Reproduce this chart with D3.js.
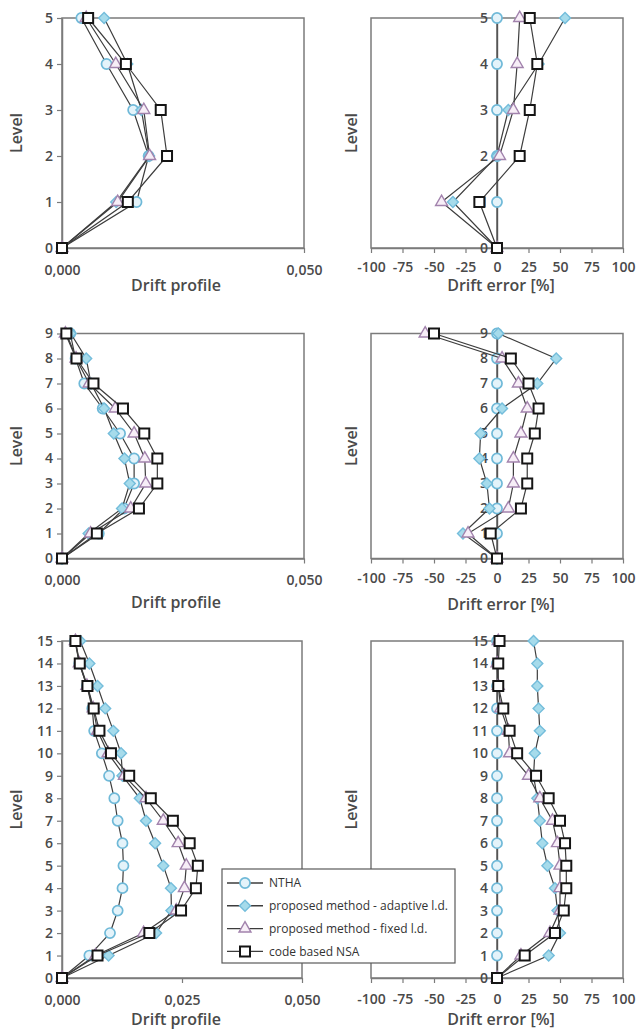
<!DOCTYPE html>
<html lang="en">
<head>
<meta charset="UTF-8">
<title>Drift profile / drift error</title>
<script src="https://cdn.jsdelivr.net/npm/d3@7"></script>
<style>
    body{margin:0;background:#fff;}
    svg text{font-family:"Open Sans",sans-serif;}
</style>
</head>
<body>
<svg width="637" height="1030"></svg>
<script>
    // series (legend order)
    var seriesNames = ["NTHA", "proposed method - adaptive l.d.", "proposed method - fixed l.d.", "code based NSA"];

    // tick labels
    var driftTicksShort = [0, 0.05];
    var driftTicksLong = [0, 0.025, 0.05];
    var errorTicks = [-100, -75, -50, -25, 0, 25, 50, 75, 100];

    // 5 storey frame: drift profile, index = level
    var p1Ntha     = [0, 0.0154, 0.0179, 0.0147, 0.0092, 0.0040];
    var p1Adaptive = [0, 0.0112, 0.0180, 0.0164, 0.0135, 0.0087];
    var p1Fixed    = [0, 0.0115, 0.0181, 0.0169, 0.0111, 0.0050];
    var p1Nsa      = [0, 0.0136, 0.0217, 0.0204, 0.0132, 0.0054];
    // 5 storey frame: drift error [%]
    var p2Ntha     = [0, 0, 0, 0, 0, 0];
    var p2Adaptive = [0, -35, 0, 9, 33, 54];
    var p2Fixed    = [0, -44, 2, 13, 16, 18];
    var p2Nsa      = [0, -14, 18, 26, 32, 26];

    // 9 storey frame
    var p3Ntha     = [0, 0.0076, 0.0128, 0.0149, 0.0149, 0.0120, 0.0084, 0.0046, 0.0028, 0.0017];
    var p3Adaptive = [0, 0.0055, 0.0124, 0.0140, 0.0129, 0.0107, 0.0087, 0.0060, 0.0050, 0.0018];
    var p3Fixed    = [0, 0.0059, 0.0142, 0.0173, 0.0171, 0.0149, 0.0110, 0.0056, 0.0029, 0.0007];
    var p3Nsa      = [0, 0.0072, 0.0159, 0.0197, 0.0197, 0.0170, 0.0126, 0.0065, 0.0030, 0.0009];
    var p4Ntha     = [0, 0, 0, 0, 0, 0, 0, 0, 0, 0];
    var p4Adaptive = [0, -27, -6, -8, -14, -13, 4, 32, 47, 1];
    var p4Fixed    = [0, -23, 9, 13, 13, 19, 24, 17, 4, -57];
    var p4Nsa      = [0, -5, 19, 24, 24, 30, 33, 25, 11, -50];

    // 15 storey frame
    var p5Ntha     = [0, 0.0057, 0.0100, 0.0116, 0.0126, 0.0128, 0.0126, 0.0116, 0.0109, 0.0098, 0.0083, 0.0067, 0.0063, 0.0052, 0.0036, 0.0027];
    var p5Adaptive = [0, 0.0097, 0.0196, 0.0228, 0.0227, 0.0211, 0.0194, 0.0175, 0.0162, 0.0126, 0.0123, 0.0107, 0.0090, 0.0074, 0.0057, 0.0038];
    var p5Fixed    = [0, 0.0070, 0.0170, 0.0238, 0.0255, 0.0259, 0.0242, 0.0211, 0.0175, 0.0130, 0.0096, 0.0074, 0.0065, 0.0052, 0.0036, 0.0028];
    var p5Nsa      = [0, 0.0074, 0.0182, 0.0248, 0.0279, 0.0283, 0.0266, 0.0231, 0.0185, 0.0140, 0.0102, 0.0078, 0.0066, 0.0053, 0.0037, 0.0028];
    var p6Ntha     = [0, 0, 0, 0, 0, 0, 0, 0, 0, 0, 0, 0, 0, 0, 0, 0];
    var p6Adaptive = [0, 41, 50, 48, 46, 40, 36, 34, 32, 29, 30, 34, 33, 32, 32, 29];
    var p6Fixed    = [0, 19, 42, 50, 50, 50, 48, 44, 34, 25, 10, 9, 3, 1, 0, 1];
    var p6Nsa      = [0, 22, 46, 53, 55, 55, 54, 50, 41, 31, 16, 10, 5, 1, 1, 2];

    var svg = d3.select("svg");

    // marker look for each series
    var markers = [
        {type: d3.symbolCircle, size: 80, rot: 0, fill: "#e4f3fa", stroke: "#6fb9d8", width: 1.7},
        {type: d3.symbolSquare, size: 60, rot: 45, fill: "#a6dbeb", stroke: "#74bddb", width: 1.4},
        {type: d3.symbolTriangle, size: 62, rot: 0, fill: "#f7eef7", stroke: "#a283ad", width: 1.4},
        {type: d3.symbolSquare, size: 100, rot: 0, fill: "#ffffff", stroke: "#151515", width: 2}
    ];
    var lineColor = "#3d3d3d";
    var frameColor = "#7b7b7b";
    var textColor = "#4a4a4a";

    var fmtDrift = function(d){ return d3.format(".3f")(d).replace(".", ","); };
    // plain hyphen for negatives, as in the original figure
    var fmtError = function(d){ return String(d); };

    var panels = [
        {series: [p1Ntha, p1Adaptive, p1Fixed, p1Nsa], domain: [0, 0.05], ticks: driftTicksShort, fmt: fmtDrift,
            left: 62, right: 304, top: 18, bottom: 248, pad: 12, title: "Drift profile", tx: 176, ty: 291, lx: 18},
        {series: [p2Ntha, p2Adaptive, p2Fixed, p2Nsa], domain: [-100, 100], ticks: errorTicks, fmt: fmtError,
            left: 371, right: 623, top: 18, bottom: 248, pad: 9, title: "Drift error [%]", tx: 501, ty: 291, lx: 353},
        {series: [p3Ntha, p3Adaptive, p3Fixed, p3Nsa], domain: [0, 0.05], ticks: driftTicksShort, fmt: fmtDrift,
            left: 62, right: 304, top: 333.5, bottom: 558.5, pad: 12, title: "Drift profile", tx: 176, ty: 608, lx: 18},
        {series: [p4Ntha, p4Adaptive, p4Fixed, p4Nsa], domain: [-100, 100], ticks: errorTicks, fmt: fmtError,
            left: 371, right: 623, top: 333.5, bottom: 558.5, pad: 10, title: "Drift error [%]", tx: 501, ty: 610, lx: 353},
        {series: [p5Ntha, p5Adaptive, p5Fixed, p5Nsa], domain: [0, 0.05], ticks: driftTicksLong, fmt: fmtDrift,
            left: 62, right: 302, top: 641, bottom: 978, pad: 12, title: "Drift profile", tx: 176, ty: 1025, lx: 18},
        {series: [p6Ntha, p6Adaptive, p6Fixed, p6Nsa], domain: [-100, 100], ticks: errorTicks, fmt: fmtError,
            left: 371, right: 623, top: 641, bottom: 978, pad: 11, title: "Drift error [%]", tx: 501, ty: 1025, lx: 353}
    ];

    function symbolPath(m){
        return d3.symbol().type(m.type).size(m.size)();
    }

    panels.forEach(function(p){
        var nLevels = p.series[0].length - 1;
        var x = d3.scaleLinear().domain(p.domain).range([p.left, p.right]);
        var y = d3.scaleLinear().domain([0, nLevels]).range([p.bottom, p.top]);
        var g = svg.append("g");

        // plot frame
        g.append("rect")
            .attr("x", p.left).attr("y", p.top)
            .attr("width", p.right - p.left).attr("height", p.bottom - p.top)
            .attr("fill", "none").attr("stroke", frameColor).attr("stroke-width", 1.5);

        var xAxis = g.append("g")
            .attr("transform", "translate(0," + p.bottom + ")")
            .call(d3.axisBottom(x).tickValues(p.ticks).tickFormat(p.fmt).tickSize(5).tickSizeOuter(0).tickPadding(p.pad));

        // level axis sits at x = 0
        var yAxis = g.append("g")
            .attr("transform", "translate(" + x(0) + ",0)")
            .call(d3.axisLeft(y).tickValues(d3.range(nLevels + 1)).tickFormat(d3.format("d")).tickSize(5).tickSizeOuter(0).tickPadding(4));

        [xAxis, yAxis].forEach(function(a){
            a.select(".domain").attr("stroke", frameColor).attr("stroke-width", 1.5);
            a.selectAll(".tick line").attr("stroke", frameColor).attr("stroke-width", 1.2);
            a.selectAll(".tick text").attr("fill", textColor).style("font-size", "14px").style("font-weight", 600);
        });

        // lines first, then markers, series after series
        var line = d3.line()
            .x(function(d){ return x(d); })
            .y(function(d, i){ return y(i); });

        p.series.forEach(function(vals, s){
            var m = markers[s];
            g.append("path")
                .datum(vals)
                .attr("d", line)
                .attr("fill", "none")
                .attr("stroke", lineColor)
                .attr("stroke-width", 1.2);
            g.selectAll(".mk" + s)
                .data(vals)
                .enter()
                .append("path")
                .attr("class", "mk" + s)
                .attr("d", symbolPath(m))
                .attr("transform", function(d, i){ return "translate(" + x(d) + "," + y(i) + ") rotate(" + m.rot + ")"; })
                .attr("fill", m.fill)
                .attr("stroke", m.stroke)
                .attr("stroke-width", m.width);
        });

        g.append("text")
            .attr("x", p.tx).attr("y", p.ty)
            .attr("text-anchor", "middle")
            .attr("fill", textColor)
            .style("font-size", "16px").style("font-weight", 600)
            .text(p.title);

        g.append("text")
            .attr("transform", "translate(" + p.lx + "," + (p.top + p.bottom) / 2 + ") rotate(-90)")
            .attr("text-anchor", "middle")
            .attr("dominant-baseline", "middle")
            .attr("fill", textColor)
            .style("font-size", "16px").style("font-weight", 600)
            .text("Level");
    });

    // legend
    var legend = svg.append("g").attr("transform", "translate(222,869)");
    legend.append("rect")
        .attr("width", 233).attr("height", 94)
        .attr("fill", "#fff").attr("stroke", "#5a5a5a").attr("stroke-width", 1.2);
    var rows = legend.selectAll(".row")
        .data(seriesNames)
        .enter()
        .append("g")
        .attr("class", "row")
        .attr("transform", function(d, i){ return "translate(0," + (14 + i * 22.8) + ")"; });
    rows.append("line")
        .attr("x1", 5).attr("x2", 41)
        .attr("stroke", lineColor).attr("stroke-width", 1.4);
    rows.append("path")
        .attr("d", function(d, i){ return symbolPath(markers[i]); })
        .attr("transform", function(d, i){ return "translate(23,0) rotate(" + markers[i].rot + ")"; })
        .attr("fill", function(d, i){ return markers[i].fill; })
        .attr("stroke", function(d, i){ return markers[i].stroke; })
        .attr("stroke-width", function(d, i){ return markers[i].width; });
    rows.append("text")
        .attr("x", 47)
        .attr("dy", "0.35em")
        .attr("fill", "#333")
        .style("font-size", "12px")
        .text(function(d){ return d; });
</script>
</body>
</html>
